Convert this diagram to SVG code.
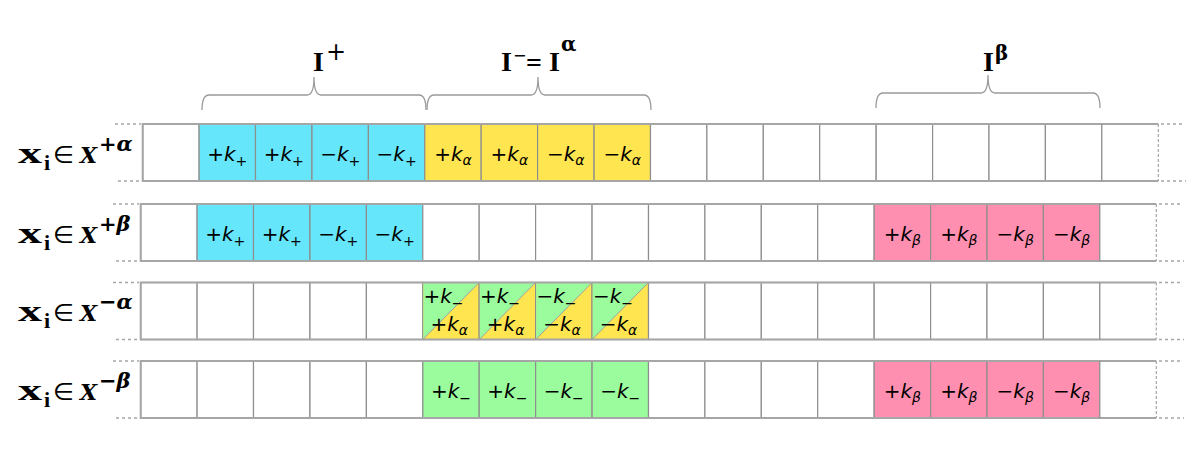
<svg xmlns="http://www.w3.org/2000/svg" width="1203" height="453" viewBox="0 0 1203 453">
<style>
.c{stroke:#8e8e8e;stroke-width:1.2}
.w{fill:#ffffff}
.cy{fill:#66e6fa}
.ye{fill:#ffe54f}
.gr{fill:#9bfc9e}
.pk{fill:#ff8fb0}
.out{fill:none;stroke:#a6a6a6;stroke-width:2}
.dash{fill:none;stroke:#a6a6a6;stroke-width:1.5;stroke-dasharray:3 3}
.vd{fill:none;stroke:#a6a6a6;stroke-width:1.2;stroke-dasharray:3 2}
.diag{stroke:#a0a0a0;stroke-width:1;fill:none}
.t{font-family:"DejaVu Sans",Verdana,sans-serif;font-size:20px;fill:#000;text-anchor:middle}
.ts{font-family:"DejaVu Sans",Verdana,sans-serif;font-size:20px;fill:#000}
.k{font-style:italic}
.sb{font-size:14px}
.bx{font-family:"Liberation Serif","Times New Roman",serif;font-weight:bold;font-size:30px;fill:#000}
.bi{font-family:"Liberation Serif","Times New Roman",serif;font-weight:bold;font-size:22px;fill:#000}
.el{font-family:"DejaVu Sans",sans-serif;font-size:24px;fill:#000}
.bX{font-family:"DejaVu Serif",serif;font-weight:bold;font-style:italic;font-size:22px;fill:#000}
.sup{font-family:"DejaVu Serif",serif;font-weight:bold;font-style:italic;font-size:21px;fill:#000}
.brace{fill:none;stroke:#9a9a9a;stroke-width:1.3}
.hd{font-family:"Liberation Serif","Times New Roman",serif;font-weight:bold;font-size:28px;fill:#000}
.hs{font-family:"DejaVu Sans",sans-serif;font-size:24px;fill:#000}
.hm{font-family:"DejaVu Sans",sans-serif;font-size:16px;fill:#000}
.hg{font-family:"DejaVu Serif",serif;font-weight:bold;font-size:20px;fill:#000}
</style>

<!-- top labels -->
<g id="label-Iplus"><text class="hd" x="313" y="71">I</text><text class="hs" x="326" y="60">+</text></g>
<g id="label-Iminus"><text class="hd" x="501" y="71">I</text><text class="hm" x="513" y="61">−</text><text class="hd" x="526" y="72">=</text><text class="hd" x="549" y="71">I</text><text class="hg" x="561" y="51">α</text></g>
<g id="label-Ibeta"><text class="hd" x="983" y="71">I</text><text class="hg" x="995" y="60">β</text></g>

<g id="connectors">
<path class="brace" d="M202,110 Q202,95 209,95 L307,95 Q314,95 314,77 Q314,95 321,95 L419,95 Q426,95 426,110"/>
<path class="brace" d="M427,110 Q427,95 434,95 L531,95 Q538,95 538,77 Q538,95 545,95 L644,95 Q651,95 651,110"/>
<path class="brace" d="M876,108 Q876,93 883,93 L981,93 Q988,93 988,75 Q988,93 995,93 L1093,93 Q1100,93 1100,108"/>
</g>

<!-- row labels -->
<g id="label-row1"><text class="bx" transform="translate(18,163) scale(1.6,1)">x</text><text class="bi" x="44" y="170">i</text><text class="el" x="53" y="163">∈</text><text class="bX" x="80" y="163">X</text><text class="sup" x="99" y="151">+α</text></g>
<g id="label-row2"><text class="bx" transform="translate(18,243) scale(1.6,1)">x</text><text class="bi" x="44" y="250">i</text><text class="el" x="53" y="243">∈</text><text class="bX" x="80" y="243">X</text><text class="sup" x="99" y="231">+β</text></g>
<g id="label-row3"><text class="bx" transform="translate(18,321) scale(1.6,1)">x</text><text class="bi" x="44" y="328">i</text><text class="el" x="53" y="321">∈</text><text class="bX" x="80" y="321">X</text><text class="sup" x="99" y="309">−α</text></g>
<g id="label-row4"><text class="bx" transform="translate(18,400) scale(1.6,1)">x</text><text class="bi" x="44" y="407">i</text><text class="el" x="53" y="400">∈</text><text class="bX" x="80" y="400">X</text><text class="sup" x="99" y="388">−β</text></g>

<!-- row 1 -->
<g id="row1">
<rect class="c w" x="142.7" y="124" width="56.4" height="57"/>
<rect class="c cy" x="199.1" y="124" width="56.4" height="57"/>
<rect class="c cy" x="255.5" y="124" width="56.4" height="57"/>
<rect class="c cy" x="312" y="124" width="56.4" height="57"/>
<rect class="c cy" x="368.4" y="124" width="56.4" height="57"/>
<rect class="c ye" x="424.8" y="124" width="56.4" height="57"/>
<rect class="c ye" x="481.2" y="124" width="56.4" height="57"/>
<rect class="c ye" x="537.6" y="124" width="56.4" height="57"/>
<rect class="c ye" x="594.1" y="124" width="56.4" height="57"/>
<rect class="c w" x="650.5" y="124" width="56.4" height="57"/>
<rect class="c w" x="706.9" y="124" width="56.4" height="57"/>
<rect class="c w" x="763.3" y="124" width="56.4" height="57"/>
<rect class="c w" x="819.7" y="124" width="56.4" height="57"/>
<rect class="c w" x="876.2" y="124" width="56.4" height="57"/>
<rect class="c w" x="932.6" y="124" width="56.4" height="57"/>
<rect class="c w" x="989" y="124" width="56.4" height="57"/>
<rect class="c w" x="1045.4" y="124" width="56.4" height="57"/>
<rect class="w" x="1101.8" y="124" width="56.4" height="57"/>
<path class="out" d="M1158.3,124 H142.7 V181 H1158.3"/>
<line class="c" x1="1101.8" y1="124" x2="1101.8" y2="181"/>
<line class="vd" x1="1158.3" y1="124" x2="1158.3" y2="181"/>
<path class="dash" d="M115,124 H141 M118,181 H141 M1161,124 H1184 M1161,181 H1186"/>
<text class="t" x="227.3" y="161">+<tspan class="k">k</tspan><tspan class="sb" dy="5">+</tspan></text>
<text class="t" x="283.7" y="161">+<tspan class="k">k</tspan><tspan class="sb" dy="5">+</tspan></text>
<text class="t" x="340.2" y="161">−<tspan class="k">k</tspan><tspan class="sb" dy="5">+</tspan></text>
<text class="t" x="396.6" y="161">−<tspan class="k">k</tspan><tspan class="sb" dy="5">+</tspan></text>
<text class="t" x="453" y="161">+<tspan class="k">k</tspan><tspan class="sb k" dy="4">α</tspan></text>
<text class="t" x="509.4" y="161">+<tspan class="k">k</tspan><tspan class="sb k" dy="4">α</tspan></text>
<text class="t" x="565.8" y="161">−<tspan class="k">k</tspan><tspan class="sb k" dy="4">α</tspan></text>
<text class="t" x="622.3" y="161">−<tspan class="k">k</tspan><tspan class="sb k" dy="4">α</tspan></text>
</g>

<!-- row 2 -->
<g id="row2">
<rect class="c w" x="140.7" y="204" width="56.4" height="57"/>
<rect class="c cy" x="197.1" y="204" width="56.4" height="57"/>
<rect class="c cy" x="253.5" y="204" width="56.4" height="57"/>
<rect class="c cy" x="310" y="204" width="56.4" height="57"/>
<rect class="c cy" x="366.4" y="204" width="56.4" height="57"/>
<rect class="c w" x="422.8" y="204" width="56.4" height="57"/>
<rect class="c w" x="479.2" y="204" width="56.4" height="57"/>
<rect class="c w" x="535.6" y="204" width="56.4" height="57"/>
<rect class="c w" x="592.1" y="204" width="56.4" height="57"/>
<rect class="c w" x="648.5" y="204" width="56.4" height="57"/>
<rect class="c w" x="704.9" y="204" width="56.4" height="57"/>
<rect class="c w" x="761.3" y="204" width="56.4" height="57"/>
<rect class="c w" x="817.7" y="204" width="56.4" height="57"/>
<rect class="c pk" x="874.2" y="204" width="56.4" height="57"/>
<rect class="c pk" x="930.6" y="204" width="56.4" height="57"/>
<rect class="c pk" x="987" y="204" width="56.4" height="57"/>
<rect class="c pk" x="1043.4" y="204" width="56.4" height="57"/>
<rect class="w" x="1099.8" y="204" width="56.4" height="57"/>
<path class="out" d="M1156.3,204 H140.7 V261 H1156.3"/>
<line class="c" x1="1099.8" y1="204" x2="1099.8" y2="261"/>
<line class="vd" x1="1156.3" y1="204" x2="1156.3" y2="261"/>
<path class="dash" d="M113,204 H139 M116,261 H139 M1159,204 H1182 M1159,261 H1184"/>
<text class="t" x="225.3" y="241">+<tspan class="k">k</tspan><tspan class="sb" dy="5">+</tspan></text>
<text class="t" x="281.7" y="241">+<tspan class="k">k</tspan><tspan class="sb" dy="5">+</tspan></text>
<text class="t" x="338.2" y="241">−<tspan class="k">k</tspan><tspan class="sb" dy="5">+</tspan></text>
<text class="t" x="394.6" y="241">−<tspan class="k">k</tspan><tspan class="sb" dy="5">+</tspan></text>
<text class="t" x="902.4" y="241">+<tspan class="k">k</tspan><tspan class="sb k" dy="4">β</tspan></text>
<text class="t" x="958.8" y="241">+<tspan class="k">k</tspan><tspan class="sb k" dy="4">β</tspan></text>
<text class="t" x="1015.2" y="241">−<tspan class="k">k</tspan><tspan class="sb k" dy="4">β</tspan></text>
<text class="t" x="1071.6" y="241">−<tspan class="k">k</tspan><tspan class="sb k" dy="4">β</tspan></text>
</g>

<!-- row 3 -->
<g id="row3">
<rect class="c w" x="140.7" y="282.5" width="56.4" height="57"/>
<rect class="c w" x="197.1" y="282.5" width="56.4" height="57"/>
<rect class="c w" x="253.5" y="282.5" width="56.4" height="57"/>
<rect class="c w" x="310" y="282.5" width="56.4" height="57"/>
<rect class="c w" x="366.4" y="282.5" width="56.4" height="57"/>
<rect class="c ye" x="422.8" y="282.5" width="56.4" height="57"/>
<rect class="c ye" x="479.2" y="282.5" width="56.4" height="57"/>
<rect class="c ye" x="535.6" y="282.5" width="56.4" height="57"/>
<rect class="c ye" x="592.1" y="282.5" width="56.4" height="57"/>
<rect class="c w" x="648.5" y="282.5" width="56.4" height="57"/>
<rect class="c w" x="704.9" y="282.5" width="56.4" height="57"/>
<rect class="c w" x="761.3" y="282.5" width="56.4" height="57"/>
<rect class="c w" x="817.7" y="282.5" width="56.4" height="57"/>
<rect class="c w" x="874.2" y="282.5" width="56.4" height="57"/>
<rect class="c w" x="930.6" y="282.5" width="56.4" height="57"/>
<rect class="c w" x="987" y="282.5" width="56.4" height="57"/>
<rect class="c w" x="1043.4" y="282.5" width="56.4" height="57"/>
<rect class="w" x="1099.8" y="282.5" width="56.4" height="57"/>
<polygon class="gr" points="423.4,283.1 478.6,283.1 423.4,338.9"/>
<polygon class="gr" points="479.8,283.1 535,283.1 479.8,338.9"/>
<polygon class="gr" points="536.2,283.1 591.4,283.1 536.2,338.9"/>
<polygon class="gr" points="592.7,283.1 647.9,283.1 592.7,338.9"/>
<path class="diag" d="M422.8,339.5 L479.2,282.5 M479.2,339.5 L535.6,282.5 M535.6,339.5 L592.1,282.5 M592.1,339.5 L648.5,282.5"/>
<path class="out" d="M1156.3,282.5 H140.7 V339.5 H1156.3"/>
<line class="c" x1="1099.8" y1="282.5" x2="1099.8" y2="339.5"/>
<line class="vd" x1="1156.3" y1="282.5" x2="1156.3" y2="339.5"/>
<path class="dash" d="M113,282.5 H139 M116,339.5 H139 M1159,282.5 H1182 M1159,339.5 H1184"/>
<text class="ts" x="423.5" y="303">+<tspan class="k">k</tspan><tspan class="sb" dy="5">−</tspan></text>
<text class="ts" x="479.9" y="303">+<tspan class="k">k</tspan><tspan class="sb" dy="5">−</tspan></text>
<text class="ts" x="536.5" y="303">−<tspan class="k">k</tspan><tspan class="sb" dy="5">−</tspan></text>
<text class="ts" x="593" y="303">−<tspan class="k">k</tspan><tspan class="sb" dy="5">−</tspan></text>
<text class="ts" x="468" y="331" text-anchor="end">+<tspan class="k">k</tspan><tspan class="sb k" dy="4">α</tspan></text>
<text class="ts" x="524.4" y="331" text-anchor="end">+<tspan class="k">k</tspan><tspan class="sb k" dy="4">α</tspan></text>
<text class="ts" x="580.8" y="331" text-anchor="end">−<tspan class="k">k</tspan><tspan class="sb k" dy="4">α</tspan></text>
<text class="ts" x="637.3" y="331" text-anchor="end">−<tspan class="k">k</tspan><tspan class="sb k" dy="4">α</tspan></text>
</g>

<!-- row 4 -->
<g id="row4">
<rect class="c w" x="140.7" y="361" width="56.4" height="57"/>
<rect class="c w" x="197.1" y="361" width="56.4" height="57"/>
<rect class="c w" x="253.5" y="361" width="56.4" height="57"/>
<rect class="c w" x="310" y="361" width="56.4" height="57"/>
<rect class="c w" x="366.4" y="361" width="56.4" height="57"/>
<rect class="c gr" x="422.8" y="361" width="56.4" height="57"/>
<rect class="c gr" x="479.2" y="361" width="56.4" height="57"/>
<rect class="c gr" x="535.6" y="361" width="56.4" height="57"/>
<rect class="c gr" x="592.1" y="361" width="56.4" height="57"/>
<rect class="c w" x="648.5" y="361" width="56.4" height="57"/>
<rect class="c w" x="704.9" y="361" width="56.4" height="57"/>
<rect class="c w" x="761.3" y="361" width="56.4" height="57"/>
<rect class="c w" x="817.7" y="361" width="56.4" height="57"/>
<rect class="c pk" x="874.2" y="361" width="56.4" height="57"/>
<rect class="c pk" x="930.6" y="361" width="56.4" height="57"/>
<rect class="c pk" x="987" y="361" width="56.4" height="57"/>
<rect class="c pk" x="1043.4" y="361" width="56.4" height="57"/>
<rect class="w" x="1099.8" y="361" width="56.4" height="57"/>
<path class="out" d="M1156.3,361 H140.7 V418 H1156.3"/>
<line class="c" x1="1099.8" y1="361" x2="1099.8" y2="418"/>
<line class="vd" x1="1156.3" y1="361" x2="1156.3" y2="418"/>
<path class="dash" d="M113,361 H139 M116,418 H139 M1159,361 H1182 M1159,418 H1184"/>
<text class="t" x="451" y="398">+<tspan class="k">k</tspan><tspan class="sb" dy="5">−</tspan></text>
<text class="t" x="507.4" y="398">+<tspan class="k">k</tspan><tspan class="sb" dy="5">−</tspan></text>
<text class="t" x="563.8" y="398">−<tspan class="k">k</tspan><tspan class="sb" dy="5">−</tspan></text>
<text class="t" x="620.3" y="398">−<tspan class="k">k</tspan><tspan class="sb" dy="5">−</tspan></text>
<text class="t" x="902.4" y="398">+<tspan class="k">k</tspan><tspan class="sb k" dy="4">β</tspan></text>
<text class="t" x="958.8" y="398">+<tspan class="k">k</tspan><tspan class="sb k" dy="4">β</tspan></text>
<text class="t" x="1015.2" y="398">−<tspan class="k">k</tspan><tspan class="sb k" dy="4">β</tspan></text>
<text class="t" x="1071.6" y="398">−<tspan class="k">k</tspan><tspan class="sb k" dy="4">β</tspan></text>
</g>
</svg>
